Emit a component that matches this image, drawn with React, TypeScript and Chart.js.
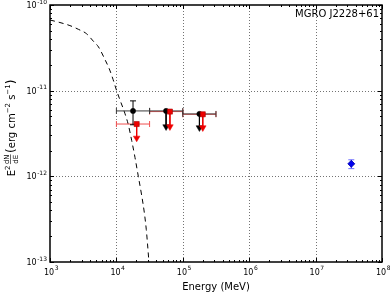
import React, { useEffect, useRef } from 'react';
import { Chart, registerables } from 'chart.js';

Chart.register(...registerables);

// ---- data ----
const curveE = [1000, 1413, 1995, 2692, 3548, 4467, 5370, 6761, 7943, 8913, 10000, 11220, 13490, 15140, 16980, 19050, 21380, 23990, 26300, 28180, 29510, 30900];
const curveFlux = [6.68e-11, 6.24e-11, 5.75e-11, 5.19e-11, 4.62e-11, 3.8e-11, 3.24e-11, 2.29e-11, 1.74e-11, 1.35e-11, 1.02e-11, 7.94e-12, 5.37e-12, 3.98e-12, 2.63e-12, 1.66e-12, 1.0e-12, 6.03e-13, 3.8e-13, 2.4e-13, 1.58e-13, 1.0e-13];

const binLo = [1.0e4, 3.16e4, 1.0e5];
const binHi = [3.16e4, 1.0e5, 3.16e5];

const blackE = [1.78e4, 5.6e4, 1.78e5];
const blackFlux = [5.8e-12, 5.8e-12, 5.35e-12];
const blackErrLo = [4.0e-12, null, null];
const blackErrHi = [7.6e-12, null, null];
const blackUL = [null, 3.8e-12, 3.7e-12];

const redE = [2.02e4, 6.4e4, 2.0e5];
const redFlux = [4.08e-12, 5.7e-12, 5.3e-12];
const redUL = [2.8e-12, 3.8e-12, 3.7e-12];

const blueE = [3.45e7];
const blueFlux = [1.4e-12];
const blueErrLo = [1.23e-12];
const blueErrHi = [1.56e-12];

const xTickExps = [3, 4, 5, 6, 7, 8];
const yTickExps = [-10, -11, -12, -13];
const sourceLabel = 'MGRO J2228+61';
const xTitle = 'Energy (MeV)';

const FONT = '"DejaVu Sans", sans-serif';

type P = { x: number; y: number | null };

function segs(pairs: [P, P][]): P[] {
  const out: P[] = [];
  pairs.forEach(([a, b], i) => {
    if (i > 0) out.push({ x: a.x, y: null });
    out.push(a, b);
  });
  return out;
}

const hBars = (E: number[], F: number[]) =>
  segs(E.map((_, i) => [{ x: binLo[i], y: F[i] }, { x: binHi[i], y: F[i] }] as [P, P]));
const hCaps = (F: number[]) => {
  const out: P[] = [];
  F.forEach((f, i) => { out.push({ x: binLo[i], y: f }, { x: binHi[i], y: f }); });
  return out;
};
const vLines = (E: number[], A: (number | null)[], B: (number | null)[]) =>
  segs(E.map((e, i) => [A[i], B[i]] as [number | null, number | null])
    .map((ab, i) => [ab, i] as [[number | null, number | null], number])
    .filter(([ab]) => ab[0] != null && ab[1] != null)
    .map(([ab, i]) => [{ x: E[i], y: ab[0] as number }, { x: E[i], y: ab[1] as number }] as [P, P]));
const pts = (E: number[], F: (number | null)[]) =>
  E.map((e, i) => ({ x: e, y: F[i] })).filter((p) => p.y != null) as P[];

const axisPlugin = {
  id: 'mplAxes',
  beforeDatasetsDraw(chart: any) {
    const { ctx, chartArea: a, scales } = chart;
    const x = scales.x, y = scales.y;
    ctx.save();
    ctx.strokeStyle = 'rgba(0,0,0,0.55)';
    ctx.lineWidth = 1;
    ctx.setLineDash([1, 2]);
    xTickExps.slice(1, -1).forEach((e) => {
      const px = Math.round(x.getPixelForValue(Math.pow(10, e))) + 0.5;
      ctx.beginPath(); ctx.moveTo(px, a.top); ctx.lineTo(px, a.bottom); ctx.stroke();
    });
    yTickExps.slice(1, -1).forEach((e) => {
      const py = Math.round(y.getPixelForValue(Math.pow(10, e))) + 0.5;
      ctx.beginPath(); ctx.moveTo(a.left, py); ctx.lineTo(a.right, py); ctx.stroke();
    });
    ctx.restore();
  },
  afterDraw(chart: any) {
    const { ctx, chartArea: a, scales } = chart;
    const x = scales.x, y = scales.y;
    ctx.save();
    ctx.setLineDash([]);
    ctx.strokeStyle = '#000';
    // ticks
    ctx.lineWidth = 1;
    const xMin = xTickExps[0], xMax = xTickExps[xTickExps.length - 1];
    for (let e = xMin; e <= xMax; e++) {
      for (let m = 1; m <= 9; m++) {
        if (e === xMax && m > 1) break;
        const v = m * Math.pow(10, e);
        const px = Math.round(x.getPixelForValue(v)) + 0.5;
        const len = m === 1 ? 4 : 2;
        ctx.beginPath();
        ctx.moveTo(px, a.bottom); ctx.lineTo(px, a.bottom - len);
        ctx.moveTo(px, a.top); ctx.lineTo(px, a.top + len);
        ctx.stroke();
      }
    }
    const yMin = yTickExps[yTickExps.length - 1], yMax = yTickExps[0];
    for (let e = yMin; e <= yMax; e++) {
      for (let m = 1; m <= 9; m++) {
        if (e === yMax && m > 1) break;
        const v = m * Math.pow(10, e);
        const py = Math.round(y.getPixelForValue(v)) + 0.5;
        const len = m === 1 ? 4 : 2;
        ctx.beginPath();
        ctx.moveTo(a.left, py); ctx.lineTo(a.left + len, py);
        ctx.moveTo(a.right, py); ctx.lineTo(a.right - len, py);
        ctx.stroke();
      }
    }
    // frame
    ctx.lineWidth = 1.5;
    ctx.strokeRect(a.left, a.top, a.right - a.left, a.bottom - a.top);

    // tick labels
    ctx.fillStyle = '#000';
    ctx.textBaseline = 'alphabetic';
    const big = '8px ' + FONT, small = '6px ' + FONT;
    xTickExps.forEach((e) => {
      const px = x.getPixelForValue(Math.pow(10, e));
      ctx.font = big; const w1 = ctx.measureText('10').width;
      ctx.font = small; const w2 = ctx.measureText(String(e)).width;
      const x0 = px - (w1 + w2) / 2 + 1;
      ctx.font = big; ctx.textAlign = 'left'; ctx.fillText('10', x0, 275);
      ctx.font = small; ctx.fillText(String(e), x0 + w1 + 0.5, 270);
    });
    yTickExps.forEach((e) => {
      const py = y.getPixelForValue(Math.pow(10, e));
      const ex = String(e);
      ctx.font = small; const w2 = ctx.measureText(ex).width;
      ctx.font = big; const w1 = ctx.measureText('10').width;
      const xr = a.left - 3;
      ctx.textAlign = 'left';
      ctx.font = big; ctx.fillText('10', xr - w2 - w1 - 0.5, py + 3);
      ctx.font = small; ctx.fillText(ex, xr - w2, py - 1.5);
    });

    // source label
    ctx.font = '10px ' + FONT;
    ctx.textAlign = 'right';
    ctx.textBaseline = 'middle';
    ctx.fillText(sourceLabel, a.right - 3, 14);

    // x title
    ctx.font = '10px ' + FONT;
    ctx.textAlign = 'center';
    ctx.textBaseline = 'middle';
    ctx.fillText(xTitle, (a.left + a.right) / 2, 287);

    // y title (rotated)
    ctx.translate(11, 128);
    ctx.rotate(-Math.PI / 2);
    ctx.textAlign = 'left';
    ctx.textBaseline = 'alphabetic';
    const f10 = '10px ' + FONT, f7 = '7px ' + FONT, fFrac = '7px ' + FONT, f12 = '12px ' + FONT;
    const parts: { t: string; f: string; dy: number; frac?: boolean }[] = [
      { t: 'E', f: f10, dy: 3.5 },
      { t: '2', f: f7, dy: -1 },
      { t: 'frac', f: fFrac, dy: 0, frac: true },
      { t: '(', f: f12, dy: 4 },
      { t: 'erg cm', f: f10, dy: 3.5 },
      { t: '\u22122', f: f7, dy: -1 },
      { t: ' s', f: f10, dy: 3.5 },
      { t: '\u22121', f: f7, dy: -1 },
      { t: ')', f: f12, dy: 4 },
    ];
    const widths = parts.map((p) => {
      ctx.font = p.f;
      if (p.frac) return Math.max(ctx.measureText('dN').width, ctx.measureText('dE').width) + 3;
      return ctx.measureText(p.t).width;
    });
    const total = widths.reduce((s, w) => s + w, 0);
    let cx = -total / 2;
    parts.forEach((p, i) => {
      ctx.font = p.f;
      if (p.frac) {
        const w = widths[i] - 3;
        const c = cx + 1.5 + w / 2;
        ctx.textAlign = 'center';
        ctx.fillText('dN', c, -2);
        ctx.fillText('dE', c, 6.5);
        ctx.lineWidth = 0.6;
        ctx.beginPath(); ctx.moveTo(cx + 1.5, -0.5); ctx.lineTo(cx + 1.5 + w, -0.5); ctx.stroke();
        ctx.textAlign = 'left';
      } else {
        ctx.fillText(p.t, cx, p.dy);
      }
      cx += widths[i];
    });
    ctx.restore();
  },
};

export default function App() {
  const ref = useRef<HTMLCanvasElement | null>(null);
  useEffect(() => {
    if (!ref.current) return;
    const blackBar = '#3a3a3a';
    const redBar = '#f05050';
    const chart = new Chart(ref.current, {
      type: 'scatter',
      data: {
        datasets: [
          // blue point
          { data: pts(blueE, blueFlux), pointStyle: 'rectRot', pointRadius: 3.5, backgroundColor: '#0000ee', borderColor: '#0000aa', pointBorderWidth: 0.8, order: 1 } as any,
          { data: [...pts(blueE, blueErrLo), ...pts(blueE, blueErrHi)], pointStyle: 'line', pointRadius: 3, borderColor: '#7070ff', pointBorderWidth: 1, order: 2 } as any,
          { data: vLines(blueE, blueErrLo, blueErrHi), showLine: true, pointRadius: 0, borderColor: '#3030ff', borderWidth: 1, order: 3 } as any,
          // red markers
          { data: pts(redE, redFlux), pointStyle: 'rect', pointRadius: 3.6, backgroundColor: '#ee0000', borderColor: '#aa0000', pointBorderWidth: 0.6, order: 4 } as any,
          { data: pts(redE, redUL), pointStyle: 'triangle', rotation: 180, pointRadius: 3.8, backgroundColor: '#ee0000', borderColor: '#ee0000', pointBorderWidth: 0.5, order: 5 } as any,
          { data: vLines(redE, redFlux, redUL), showLine: true, pointRadius: 0, borderColor: '#ee0000', borderWidth: 1, order: 6 } as any,
          // black markers
          { data: pts(blackE, blackFlux), pointStyle: 'circle', pointRadius: 2.6, backgroundColor: '#000', borderColor: '#000', pointBorderWidth: 0.5, order: 7 } as any,
          { data: pts(blackE, blackUL), pointStyle: 'triangle', rotation: 180, pointRadius: 3.8, backgroundColor: '#000', borderColor: '#000', pointBorderWidth: 0.5, order: 8 } as any,
          { data: vLines(blackE, blackFlux, blackUL), showLine: true, pointRadius: 0, borderColor: '#000', borderWidth: 1, order: 9 } as any,
          { data: vLines(blackE, blackErrLo, blackErrHi), showLine: true, pointRadius: 0, borderColor: '#000', borderWidth: 1, order: 10 } as any,
          { data: [...pts(blackE, blackErrLo), ...pts(blackE, blackErrHi)], pointStyle: 'line', pointRadius: 3, borderColor: '#000', pointBorderWidth: 1, order: 11 } as any,
          // horizontal bars
          { data: hCaps(blackFlux), pointStyle: 'line', rotation: 90, pointRadius: 3, borderColor: blackBar, pointBorderWidth: 1, order: 12 } as any,
          { data: hBars(blackE, blackFlux), showLine: true, pointRadius: 0, borderColor: blackBar, borderWidth: 1, order: 13 } as any,
          { data: hCaps(redFlux), pointStyle: 'line', rotation: 90, pointRadius: 3, borderColor: redBar, pointBorderWidth: 1, order: 14 } as any,
          { data: hBars(redE, redFlux), showLine: true, pointRadius: 0, borderColor: redBar, borderWidth: 1, order: 15 } as any,
          // model curve
          {
            data: curveE.map((e, i) => ({ x: e, y: curveFlux[i] })),
            showLine: true, pointRadius: 0, borderColor: '#000', borderWidth: 1,
            borderDash: [5, 4], cubicInterpolationMode: 'monotone', order: 16,
          } as any,
        ],
      },
      options: {
        animation: false,
        responsive: false,
        devicePixelRatio: 1,
        spanGaps: false,
        layout: { padding: { left: 50, right: 8, top: 5, bottom: 33 } },
        plugins: { legend: { display: false }, tooltip: { enabled: false } },
        scales: {
          x: { type: 'logarithmic', min: 1e3, max: 1e8, display: false },
          y: { type: 'logarithmic', min: 1e-13, max: 1e-10, display: false },
        },
        events: [],
      } as any,
      plugins: [axisPlugin],
    });
    return () => chart.destroy();
  }, []);
  return (
    <div style={{ position: 'absolute', left: 0, top: 0, width: 390, height: 295, background: '#fff' }}>
      <canvas ref={ref} width={390} height={295} style={{ width: 390, height: 295 }} />
    </div>
  );
}
